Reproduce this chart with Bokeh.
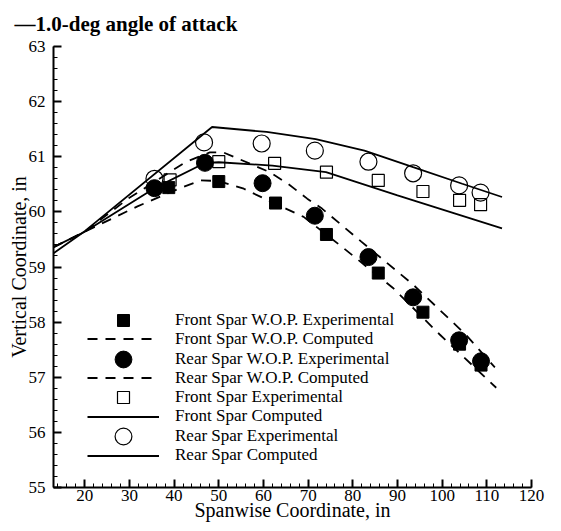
from bokeh.plotting import figure
from bokeh.models import SingleIntervalTicker, Legend, LegendItem, Range1d
from bokeh.embed import file_html
from bokeh.resources import INLINE

# ---- data ----
fwop_exp_x = [38.8, 50.0, 62.7, 74.1, 85.7, 95.7, 103.9, 108.7]
fwop_exp_y = [60.44, 60.55, 60.16, 59.59, 58.89, 58.18, 57.60, 57.22]

rwop_exp_x = [35.6, 46.9, 59.8, 71.5, 83.5, 93.5, 103.8, 108.7]
rwop_exp_y = [60.43, 60.89, 60.52, 59.93, 59.18, 58.45, 57.67, 57.29]

f_exp_x = [39.1, 50.0, 62.5, 74.1, 85.7, 95.7, 103.9, 108.6]
f_exp_y = [60.58, 60.91, 60.88, 60.72, 60.57, 60.37, 60.21, 60.13]

r_exp_x = [35.6, 46.7, 59.6, 71.5, 83.5, 93.5, 103.8, 108.6]
r_exp_y = [60.60, 61.26, 61.24, 61.11, 60.91, 60.70, 60.48, 60.35]

fwop_comp_x = [13, 20, 31.8, 41, 46, 50, 55.6, 62, 65, 69, 77.5, 89, 99.4, 112.1]
fwop_comp_y = [59.36, 59.64, 60.10, 60.42, 60.57, 60.56, 60.42, 60.17, 60.06, 59.91, 59.37, 58.62, 57.78, 56.81]

rwop_comp_x = [13, 20, 29.7, 42.5, 48, 51, 57.1, 61.4, 65.5, 69.8, 73.1, 81.9, 93.5, 105.2, 111.8]
rwop_comp_y = [59.36, 59.64, 60.24, 60.90, 61.08, 61.08, 60.87, 60.72, 60.51, 60.24, 60.06, 59.46, 58.68, 57.78, 57.18]

r_comp_x = [13, 20, 48.5, 60.7, 71.7, 82.6, 93.5, 104.5, 113.4]
r_comp_y = [59.25, 59.65, 61.54, 61.45, 61.32, 61.11, 60.81, 60.51, 60.27]

f_comp_x = [13, 20, 35.6, 47, 50, 62, 74, 90, 113.4]
f_comp_y = [59.36, 59.64, 60.43, 60.89, 60.90, 60.84, 60.72, 60.30, 59.70]

labels = ["Front Spar W.O.P. Experimental", "Front Spar W.O.P. Computed",
          "Rear Spar W.O.P. Experimental", "Rear Spar W.O.P. Computed",
          "Front Spar Experimental", "Front Spar Computed",
          "Rear Spar Experimental", "Rear Spar Computed"]

title_text = "\u20141.0-deg angle of attack"
x_title = "Spanwise Coordinate, in"
y_title = "Vertical Coordinate, in"

FONT = "Liberation Serif"
X0, X1, Y0, Y1 = 13, 120, 55, 63

p = figure(width=545, height=523, output_backend="svg", toolbar_location=None,
           x_range=Range1d(X0, X1), y_range=Range1d(Y0, Y1),
           min_border_left=53, min_border_right=14, min_border_top=46,
           min_border_bottom=0)

p.title.text = title_text
p.title.text_font = FONT
p.title.text_font_style = "bold"
p.title.text_font_size = "21px"
p.title.align = "left"
p.title.vertical_align = "top"
p.title.offset = -39
p.title.standoff = 18
p.title.text_color = "black"

p.grid.visible = False
p.outline_line_color = None
p.background_fill_color = "white"
p.border_fill_color = "white"

for ax in (p.xaxis[0], p.yaxis[0]):
    ax.axis_line_width = 2
    ax.axis_line_color = "black"
    ax.major_tick_in = 8
    ax.major_tick_out = 0
    ax.minor_tick_in = 4
    ax.minor_tick_out = 0
    ax.major_tick_line_width = 2
    ax.minor_tick_line_width = 1
    ax.major_tick_line_color = "black"
    ax.minor_tick_line_color = "black"
    ax.major_label_text_font = FONT
    ax.major_label_text_font_size = "17px"
    ax.major_label_text_color = "black"
    ax.axis_label_text_font = FONT
    ax.axis_label_text_font_size = "20px"
    ax.axis_label_text_font_style = "normal"
    ax.axis_label_text_color = "black"

p.xaxis.ticker = SingleIntervalTicker(interval=10, num_minor_ticks=5)
p.yaxis.ticker = SingleIntervalTicker(interval=1, num_minor_ticks=5)
p.xaxis.axis_label = x_title
p.yaxis.axis_label = y_title
p.xaxis.major_label_standoff = 2
p.xaxis.axis_label_standoff = -5
p.yaxis.major_label_standoff = 8
p.yaxis.axis_label_standoff = -4

DASH = "10 8"
LW = 1.8

l_fwop = p.line(fwop_comp_x, fwop_comp_y, line_color="black", line_width=LW, line_dash=DASH)
l_rwop = p.line(rwop_comp_x, rwop_comp_y, line_color="black", line_width=LW, line_dash=DASH)
l_f = p.line(f_comp_x, f_comp_y, line_color="black", line_width=LW)
l_r = p.line(r_comp_x, r_comp_y, line_color="black", line_width=LW)

m_fexp = p.scatter(f_exp_x, f_exp_y, marker="square", size=12, fill_color=None,
                   line_color="black", line_width=1.2)
m_rexp = p.scatter(r_exp_x, r_exp_y, marker="circle", size=17, fill_color=None,
                   line_color="black", line_width=1.2)
m_fwop = p.scatter(fwop_exp_x, fwop_exp_y, marker="square", size=12, fill_color="black",
                   line_color="black")
m_rwop = p.scatter(rwop_exp_x, rwop_exp_y, marker="circle", size=17, fill_color="black",
                   line_color="black")

rends = [m_fwop, l_fwop, m_rwop, l_rwop, m_fexp, l_f, m_rexp, l_r]
# one legend row per entry so each symbol gets its own size
row_offsets = [167.3, 148.0, 128.5, 109.0, 89.6, 70.2, 50.8, 31.4]
row_heights = [30, 19, 42, 19, 30, 19, 42, 19]
for lab, r, off, gh in zip(labels, rends, row_offsets, row_heights):
    lg = Legend(items=[LegendItem(label=lab, renderers=[r])],
                location=(34, off - gh / 2), glyph_width=72, glyph_height=gh,
                label_height=gh, spacing=0, padding=0, margin=0, label_standoff=16,
                label_text_font=FONT, label_text_font_size="17px",
                label_text_color="black", label_text_baseline="middle",
                border_line_color=None, background_fill_alpha=0)
    p.add_layout(lg, "center")

open("out.html", "w").write(file_html(p, INLINE))
